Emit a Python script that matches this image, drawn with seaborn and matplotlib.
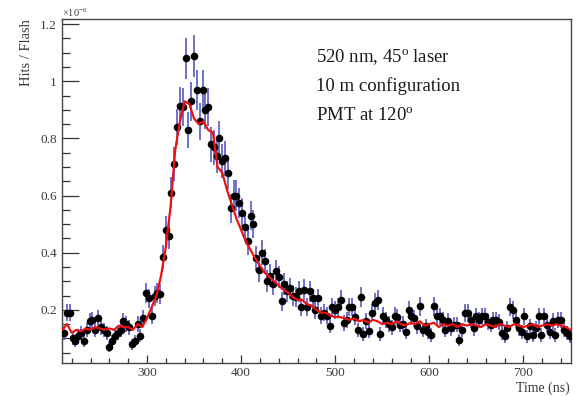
import numpy as np
import pandas as pd
import matplotlib
matplotlib.use("Agg")
import matplotlib.pyplot as plt
import seaborn as sns
from matplotlib.ticker import MultipleLocator

# ---- data (units of 1e-6 hits/flash) ----
bin_start, bin_step, bin_stop = 212, 3, 750
data_vals = [
    0.12, 0.19, 0.19, 0.10, 0.09, 0.11, 0.12, 0.09, 0.13, 0.16,
    0.165, 0.13, 0.17, 0.14, 0.13, 0.12, 0.07, 0.09, 0.11, 0.12,
    0.13, 0.16, 0.15, 0.14, 0.08, 0.09, 0.15, 0.11, 0.17, 0.26,
    0.24, 0.18, 0.25, 0.26, 0.255, 0.385, 0.48, 0.46, 0.61, 0.71,
    0.84, 0.915, 0.91, 1.08, 0.83, 0.93, 1.09, 0.97, 0.86, 0.97,
    0.90, 0.91, 0.78, 0.77, 0.74, 0.80, 0.72, 0.73, 0.68, 0.555,
    0.60, 0.60, 0.575, 0.54, 0.49, 0.44, 0.53, 0.50, 0.38, 0.34,
    0.40, 0.37, 0.30, 0.32, 0.29, 0.335, 0.315, 0.23, 0.29, 0.265,
    0.275, 0.25, 0.245, 0.265, 0.21, 0.27, 0.21, 0.265, 0.24, 0.20,
    0.24, 0.18, 0.19, 0.18, 0.145, 0.21, 0.20, 0.21, 0.235, 0.155,
    0.165, 0.21, 0.21, 0.175, 0.13, 0.245, 0.115, 0.16, 0.125, 0.19,
    0.225, 0.235, 0.115, 0.18, 0.165, 0.15, 0.14, 0.18, 0.175, 0.148,
    0.15, 0.124, 0.20, 0.177, 0.17, 0.142, 0.212, 0.13, 0.142, 0.124,
    0.112, 0.212, 0.177, 0.177, 0.165, 0.13, 0.16, 0.136, 0.148, 0.148,
    0.095, 0.13, 0.189, 0.189, 0.165, 0.136, 0.177, 0.165, 0.177, 0.177,
    0.159, 0.148, 0.165, 0.165, 0.159, 0.118, 0.107, 0.136, 0.21, 0.20,
    0.165, 0.136, 0.124, 0.177, 0.107, 0.142, 0.112, 0.136, 0.177, 0.112,
    0.177, 0.148, 0.124, 0.16, 0.112, 0.165, 0.165, 0.13, 0.118, 0.107,
]
sim_start, sim_step, sim_stop = 210, 5, 751
sim_vals = [
    0.13, 0.15, 0.12, 0.13, 0.125, 0.135, 0.13, 0.14, 0.135, 0.13,
    0.135, 0.13, 0.145, 0.14, 0.14, 0.13, 0.15, 0.14, 0.17, 0.21,
    0.25, 0.32, 0.42, 0.56, 0.76, 0.86, 0.93, 0.92, 0.87, 0.85,
    0.86, 0.83, 0.82, 0.70, 0.68, 0.62, 0.57, 0.52, 0.48, 0.44,
    0.41, 0.38, 0.355, 0.33, 0.315, 0.30, 0.285, 0.27, 0.26, 0.245,
    0.235, 0.235, 0.22, 0.215, 0.20, 0.19, 0.19, 0.18, 0.175, 0.175,
    0.17, 0.165, 0.17, 0.16, 0.165, 0.155, 0.165, 0.16, 0.15, 0.155,
    0.15, 0.16, 0.15, 0.145, 0.155, 0.15, 0.16, 0.145, 0.15, 0.155,
    0.14, 0.15, 0.145, 0.15, 0.14, 0.15, 0.145, 0.15, 0.145, 0.14,
    0.15, 0.145, 0.14, 0.15, 0.145, 0.14, 0.15, 0.145, 0.14, 0.145,
    0.15, 0.14, 0.145, 0.15, 0.145, 0.15, 0.145, 0.14, 0.13,
]
err_scale = 0.07  # Poisson-like relative error at 1e-6

data_t = np.arange(bin_start, bin_stop, bin_step)
sim_t = np.arange(sim_start, sim_stop, sim_step)
assert len(data_t) == len(data_vals), (len(data_t), len(data_vals))
assert len(sim_t) == len(sim_vals), (len(sim_t), len(sim_vals))

df_data = pd.DataFrame({"t": data_t, "v": data_vals})
df_data["err"] = err_scale * np.sqrt(df_data["v"])
df_sim = pd.DataFrame({"t": sim_t, "v": sim_vals})

# ---- style ----
sns.set_style("ticks")
plt.rcParams["font.family"] = ["Liberation Serif", "DejaVu Serif"]
plt.rcParams["mathtext.fontset"] = "custom"
plt.rcParams["mathtext.rm"] = "Liberation Serif"
plt.rcParams["mathtext.it"] = "Liberation Serif:italic"

W, H = 578, 396
fig = plt.figure(figsize=(W / 100, H / 100), dpi=100)
left, right, top, bottom = 62.3, 570.5, 18.5, 363.3
ax = fig.add_axes([left / W, 1 - bottom / H, (right - left) / W, (bottom - top) / H])

ax.errorbar(df_data["t"], df_data["v"], yerr=df_data["err"], fmt="none",
            ecolor="#4a4ab8", elinewidth=1.1, capsize=0, zorder=2)
sns.scatterplot(data=df_data, x="t", y="v", ax=ax, color="black", s=30,
                linewidth=0, zorder=3, legend=False)
sns.lineplot(data=df_sim, x="t", y="v", ax=ax, color="#ee1111", linewidth=1.6,
             estimator=None, zorder=4, legend=False)

ax.set_xlim(210, 750)
ax.set_ylim(0.013, 1.22)
ax.set_xlabel("")
ax.set_ylabel("")

ax.xaxis.set_major_locator(MultipleLocator(100))
ax.xaxis.set_minor_locator(MultipleLocator(20))
ax.yaxis.set_minor_locator(MultipleLocator(0.05))
ax.set_yticks([0.2, 0.4, 0.6, 0.8, 1.0, 1.2])
ax.set_yticklabels(["0.2", "0.4", "0.6", "0.8", "1", "1.2"])

tick_col = "#3a3a3a"
ax.tick_params(axis="x", which="major", direction="in", length=6, width=0.9,
               color="#333333", labelsize=9.5, labelcolor=tick_col, pad=2.5)
ax.tick_params(axis="x", which="minor", direction="in", length=3.3, width=0.9,
               color="#333333")
ax.tick_params(axis="y", which="major", direction="in", length=12, width=0.9,
               color="#333333", labelsize=9.5, labelcolor=tick_col, pad=4)
ax.tick_params(axis="y", which="minor", direction="in", length=6, width=0.9,
               color="#333333")
ax.tick_params(top=False, right=False)
for s in ax.spines.values():
    s.set_visible(True)
    s.set_linewidth(1.0)
    s.set_color("#444444")

# ---- texts ----
fig.text(62 / W, 1 - 13 / H, r"$\times$10$^{-6}$", fontsize=7.5, color=tick_col,
         ha="left", va="center")
fig.text(26 / W, 1 - 19 / H, "Hits / Flash", rotation=90, fontsize=10.5,
         color=tick_col, ha="center", va="top")
fig.text(570 / W, 1 - 388 / H, "Time (ns)", fontsize=10, color=tick_col,
         ha="right", va="center")

ann = [r"520 nm, 45$^{\rm o}$ laser", "10 m configuration", r"PMT at 120$^{\rm o}$"]
for i, line in enumerate(ann):
    fig.text(316 / W, 1 - (57 + 29 * i) / H, line, fontsize=13.5, color="#1a1a1a",
             ha="left", va="center")

fig.savefig("out.png", dpi=100)
